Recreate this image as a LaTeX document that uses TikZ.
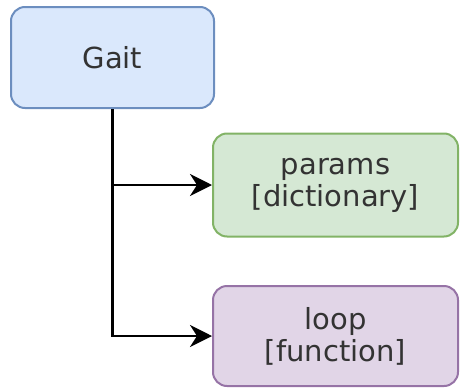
\documentclass[tikz,border=0pt]{standalone}
\usepackage{fontspec}
\setmainfont{DejaVu Sans}
\usetikzlibrary{arrows.meta,positioning}

\definecolor{gaitfill}{HTML}{DAE8FC}
\definecolor{gaitline}{HTML}{6C8EBF}
\definecolor{dictfill}{HTML}{D5E8D4}
\definecolor{dictline}{HTML}{82B366}
\definecolor{funcfill}{HTML}{E1D5E7}
\definecolor{funcline}{HTML}{9673A6}

\begin{document}
\begin{tikzpicture}[
  x=1pt, y=-1pt,
  box/.style={draw, line width=2pt, rounded corners=14pt, align=center,
    inner sep=0pt, text=black!80, font=\fontsize{29}{32}\selectfont},
  classbox/.style={box, fill=gaitfill, draw=gaitline, minimum width=203pt, minimum height=101pt},
  dictbox/.style={box, fill=dictfill, draw=dictline, minimum width=245pt, minimum height=103pt},
  funcbox/.style={box, fill=funcfill, draw=funcline, minimum width=245pt, minimum height=100pt},
  arr/.style={-{Stealth[length=22pt,width=22pt,inset=7pt]}, line width=2.6pt}
]
\useasboundingbox (0,0) rectangle (460,388);
\node[classbox] (gait) at (112.5,57.5) {Gait};
\node[dictbox] (params) at (335.5,185) {params\\{}[dictionary]};
\node[funcbox] (loop) at (335.5,336) {loop\\{}[function]};

\draw[arr] (gait.south) -- (gait.south |- loop.west) -- (loop.west);
\draw[arr] (gait.south |- params.west) -- (params.west);
\end{tikzpicture}
\end{document}
